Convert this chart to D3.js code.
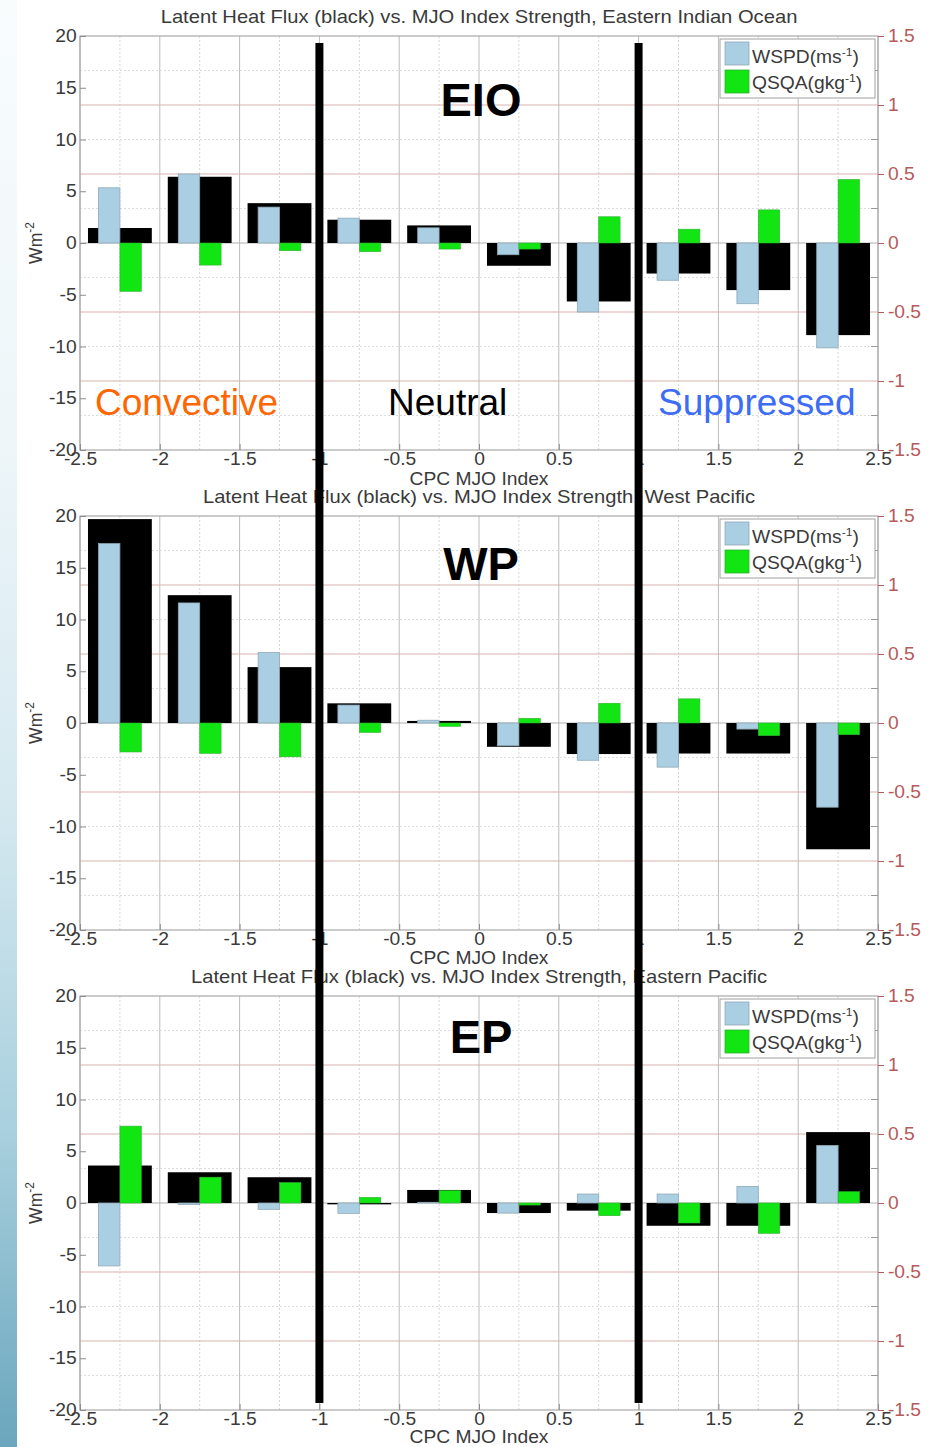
<!DOCTYPE html>
<html>
<head>
<meta charset="utf-8">
<script src="https://cdn.jsdelivr.net/npm/d3@7"></script>
<style>
  html, body { margin: 0; padding: 0; background: #ffffff; }
  svg { display: block; }
</style>
</head>
<body>
<svg id="chart" width="935" height="1447"></svg>
<script>
// ---- data -------------------------------------------------------------
const mjoBins    = [-2.25, -1.75, -1.25, -0.75, -0.25, 0.25, 0.75, 1.25, 1.75, 2.25];
const xTicks     = [-2.5, -2, -1.5, -1, -0.5, 0, 0.5, 1, 1.5, 2, 2.5];
const leftTicks  = [-20, -15, -10, -5, 0, 5, 10, 15, 20];
const rightTicks = [-1.5, -1, -0.5, 0, 0.5, 1, 1.5];
const rightMinor = [-1.25, -0.75, -0.25, 0.25, 0.75, 1.25];
const phaseEdges = [-1, 1];

const regionTitles = [
  "Latent Heat Flux (black) vs. MJO Index Strength, Eastern Indian Ocean",
  "Latent Heat Flux (black) vs. MJO Index Strength, West Pacific",
  "Latent Heat Flux (black) vs. MJO Index Strength, Eastern Pacific"
];
const regionTags = ["EIO", "WP", "EP"];

// latent heat flux anomaly (W m-2), left axis
const lhfEIO  = [1.45, 6.4, 3.85, 2.25, 1.7, -2.2, -5.65, -2.95, -4.55, -8.9];
const lhfWP   = [19.7, 12.35, 5.4, 1.9, 0.2, -2.3, -3.0, -2.95, -2.95, -12.2];
const lhfEP   = [3.62, 2.97, 2.49, -0.13, 1.26, -0.97, -0.74, -2.2, -2.2, 6.85];
// wind speed anomaly (m s-1), right axis
const wspdEIO = [0.40, 0.50, 0.26, 0.18, 0.11, -0.085, -0.50, -0.27, -0.44, -0.76];
const wspdWP  = [1.30, 0.87, 0.51, 0.13, 0.02, -0.165, -0.27, -0.32, -0.044, -0.61];
const wspdEP  = [-0.456, -0.01, -0.046, -0.075, 0.005, -0.073, 0.065, 0.065, 0.12, 0.417];
// qs - qa anomaly (g kg-1), right axis
const qsqaEIO = [-0.35, -0.16, -0.056, -0.063, -0.044, -0.044, 0.19, 0.10, 0.24, 0.46];
const qsqaWP  = [-0.21, -0.22, -0.245, -0.068, -0.024, 0.034, 0.143, 0.175, -0.092, -0.085];
const qsqaEP  = [0.557, 0.187, 0.148, 0.041, 0.09, -0.015, -0.092, -0.145, -0.22, 0.082];

const phaseLabels = ["Convective", "Neutral", "Suppressed"];
const legendLabels = [["WSPD(ms", "-1", ")"], ["QSQA(gkg", "-1", ")"]];

const lhfSeries  = [lhfEIO, lhfWP, lhfEP];
const wspdSeries = [wspdEIO, wspdWP, wspdEP];
const qsqaSeries = [qsqaEIO, qsqaWP, qsqaEP];

// ---- layout -------------------------------------------------------------
const W = 935, H = 1447;
const plotLeft = 80, plotRight = 878, panelH = 414, firstTop = 36, panelStep = 480;
const xLabelGap = [35, 34, 32.5];
const FONT = "'Liberation Sans', Arial, Helvetica, sans-serif";
const SX = 1.1;      // horizontal stretch of the axis text
const colBlue = "#aacfe3", colGreen = "#12e612", colRed = "#b85a5a";

const svg = d3.select("#chart");

// shaded strip down the left edge
const defs = svg.append("defs");
const grad = defs.append("linearGradient").attr("id", "edgeFade")
  .attr("x1", 0).attr("y1", 0).attr("x2", 0).attr("y2", 1);
[[0, "#f8fcfd"], [0.3, "#eef6f9"], [0.55, "#d6e9f0"], [0.78, "#a9d0de"], [1, "#6aa6bd"]]
  .forEach(([o, c]) => grad.append("stop").attr("offset", o).attr("stop-color", c));
svg.append("rect").attr("x", 0).attr("y", 0).attr("width", 17).attr("height", H)
  .attr("fill", "url(#edgeFade)");

const x = d3.scaleLinear().domain([-2.5, 2.5]).range([plotLeft, plotRight]);

regionTags.forEach((tag, p) => {
  const top = firstTop + p * panelStep;
  const bottom = top + panelH;
  const yL = d3.scaleLinear().domain([-20, 20]).range([bottom, top]);
  const yR = d3.scaleLinear().domain([-1.5, 1.5]).range([bottom, top]);
  const g = svg.append("g");

  // plot background
  g.append("rect").attr("x", plotLeft).attr("y", top)
    .attr("width", plotRight - plotLeft).attr("height", panelH).attr("fill", "#ffffff");

  // vertical grid: solid every 0.5, dotted in between
  g.selectAll(".vmaj").data(xTicks).join("line")
    .attr("x1", d => x(d)).attr("x2", d => x(d)).attr("y1", top).attr("y2", bottom)
    .attr("stroke", "#bcbcbc").attr("stroke-width", 1);
  g.selectAll(".vmin").data(mjoBins).join("line")
    .attr("x1", d => x(d)).attr("x2", d => x(d)).attr("y1", top).attr("y2", bottom)
    .attr("stroke", "#d6d6d6").attr("stroke-width", 1).attr("stroke-dasharray", "2,2");

  // horizontal grid from the right axis
  g.selectAll(".hmin").data(rightMinor).join("line")
    .attr("x1", plotLeft).attr("x2", plotRight).attr("y1", d => yR(d)).attr("y2", d => yR(d))
    .attr("stroke", "#dcdcdc").attr("stroke-width", 1).attr("stroke-dasharray", "2,2");
  g.selectAll(".hmaj").data(rightTicks.filter(d => Math.abs(d) !== 1.5 && d !== 0)).join("line")
    .attr("x1", plotLeft).attr("x2", plotRight).attr("y1", d => yR(d)).attr("y2", d => yR(d))
    .attr("stroke", "#dcb2b2").attr("stroke-width", 1.2);

  // frame
  g.append("rect").attr("x", plotLeft).attr("y", top)
    .attr("width", plotRight - plotLeft).attr("height", panelH)
    .attr("fill", "none").attr("stroke", "#a8a8a8").attr("stroke-width", 1.2);

  // zero line
  g.append("line").attr("x1", plotLeft).attr("x2", plotRight)
    .attr("y1", yL(0)).attr("y2", yL(0)).attr("stroke", "#b0b0b0").attr("stroke-width", 1.2);

  // latent heat flux bars (left axis)
  g.selectAll(".lhf").data(lhfSeries[p]).join("rect")
    .attr("x", (d, i) => x(mjoBins[i] - 0.2))
    .attr("width", (d, i) => x(mjoBins[i] + 0.2) - x(mjoBins[i] - 0.2))
    .attr("y", d => yL(Math.max(0, d)))
    .attr("height", d => Math.abs(yL(d) - yL(0)))
    .attr("fill", "#000000");

  // wind speed bars (right axis)
  g.selectAll(".wspd").data(wspdSeries[p]).join("rect")
    .attr("x", (d, i) => x(mjoBins[i] - 0.134))
    .attr("width", (d, i) => x(mjoBins[i]) - x(mjoBins[i] - 0.134))
    .attr("y", d => yR(Math.max(0, d)))
    .attr("height", d => Math.abs(yR(d) - yR(0)))
    .attr("fill", colBlue).attr("stroke", "#8fa9b6").attr("stroke-width", 0.8);

  // humidity difference bars (right axis)
  g.selectAll(".qsqa").data(qsqaSeries[p]).join("rect")
    .attr("x", (d, i) => x(mjoBins[i]))
    .attr("width", (d, i) => x(mjoBins[i] + 0.134) - x(mjoBins[i]))
    .attr("y", d => yR(Math.max(0, d)))
    .attr("height", d => Math.abs(yR(d) - yR(0)))
    .attr("fill", colGreen).attr("stroke", "#2fb02f").attr("stroke-width", 0.6);

  // left axis
  const la = g.append("g").attr("transform", `translate(${plotLeft},0)`)
    .call(d3.axisLeft(yL).tickValues(leftTicks).tickFormat(String).tickSize(-6).tickPadding(3));
  la.select(".domain").remove();
  la.selectAll(".tick line").attr("stroke", "#8c8c8c");
  la.selectAll(".tick text").attr("font-family", FONT).attr("font-size", 17.5)
    .attr("fill", "#3a3a3a").attr("transform", `scale(${SX},1)`);

  // bottom axis
  const ba = g.append("g").attr("transform", `translate(0,${bottom})`)
    .call(d3.axisBottom(x).tickValues(xTicks).tickFormat(String).tickSize(-6).tickPadding(3));
  ba.select(".domain").remove();
  ba.selectAll(".tick line").attr("stroke", "#8c8c8c");
  ba.selectAll(".tick text").attr("font-family", FONT).attr("font-size", 17.5)
    .attr("fill", "#3a3a3a").attr("transform", `scale(${SX},1)`);

  // right axis
  const ra = g.append("g").attr("transform", `translate(${plotRight},0)`)
    .call(d3.axisRight(yR).tickValues(rightTicks).tickFormat(String).tickSize(6).tickPadding(3));
  ra.select(".domain").remove();
  ra.selectAll(".tick line").attr("stroke", colRed);
  ra.selectAll(".tick text").attr("font-family", FONT).attr("font-size", 17.5)
    .attr("fill", colRed).attr("transform", `scale(${SX},1)`);
  g.selectAll(".rminor").data(rightMinor).join("line")
    .attr("x1", plotRight - 7).attr("x2", plotRight)
    .attr("y1", d => yR(d)).attr("y2", d => yR(d)).attr("stroke", "#9a9a9a");

  // y label
  const yl = g.append("text")
    .attr("transform", `translate(42,${(top + bottom) / 2}) rotate(-90)`)
    .attr("text-anchor", "middle").attr("font-family", FONT).attr("font-size", 17.5)
    .attr("fill", "#3a3a3a");
  yl.append("tspan").text("Wm");
  yl.append("tspan").attr("dy", -8).attr("font-size", 12).text("-2");

  // x label
  g.append("text")
    .attr("transform", `translate(${x(0)},${bottom + xLabelGap[p]}) scale(${SX},1)`)
    .attr("text-anchor", "middle").attr("font-family", FONT).attr("font-size", 17.5)
    .attr("fill", "#3a3a3a").text("CPC MJO Index");

  // title
  g.append("text")
    .attr("transform", `translate(${x(0)},${top - 13.5}) scale(1.14,1)`)
    .attr("text-anchor", "middle").attr("font-family", FONT).attr("font-size", 17.7)
    .attr("fill", "#3a3a3a").text(regionTitles[p]);

  // legend
  const lg = g.append("g");
  lg.append("rect").attr("x", 720).attr("y", top + 3).attr("width", 155).attr("height", 59)
    .attr("fill", "#ffffff").attr("stroke", "#a0a0a0").attr("stroke-width", 1);
  [colBlue, colGreen].forEach((c, k) => {
    lg.append("rect").attr("x", 725).attr("y", top + 6 + k * 28).attr("width", 24).attr("height", 23)
      .attr("fill", c).attr("stroke", k === 0 ? "#8fa9b6" : "#2fb02f").attr("stroke-width", 0.8);
    const t = lg.append("text")
      .attr("transform", `translate(752,${top + 27 + k * 26}) scale(${SX},1)`)
      .attr("font-family", FONT).attr("font-size", 17.5).attr("fill", "#3a3a3a");
    t.append("tspan").text(legendLabels[k][0]);
    t.append("tspan").attr("dy", -7).attr("font-size", 11).text(legendLabels[k][1]);
    t.append("tspan").attr("dy", 7).text(legendLabels[k][2]);
  });
});

// region tags
const tagBaselines = [116, 580, 1053];
regionTags.forEach((tag, p) => {
  svg.append("text").attr("x", 481).attr("y", tagBaselines[p])
    .attr("text-anchor", "middle").attr("font-family", FONT).attr("font-weight", "bold")
    .attr("font-size", 47).attr("fill", "#000").text(tag);
});

// phase separators at MJO index -1 and +1
svg.selectAll(".divider").data(phaseEdges).join("line")
  .attr("x1", d => x(d)).attr("x2", d => x(d)).attr("y1", 43).attr("y2", 1403)
  .attr("stroke", "#000").attr("stroke-width", 8);

// phase labels
const phaseX = [95, 388, 658];
const phaseColors = ["#ff6600", "#000000", "#3d6cf5"];
phaseLabels.forEach((lab, k) => {
  svg.append("text").attr("x", phaseX[k]).attr("y", 415)
    .attr("font-family", FONT).attr("font-size", 37).attr("fill", phaseColors[k]).text(lab);
});
</script>
</body>
</html>
